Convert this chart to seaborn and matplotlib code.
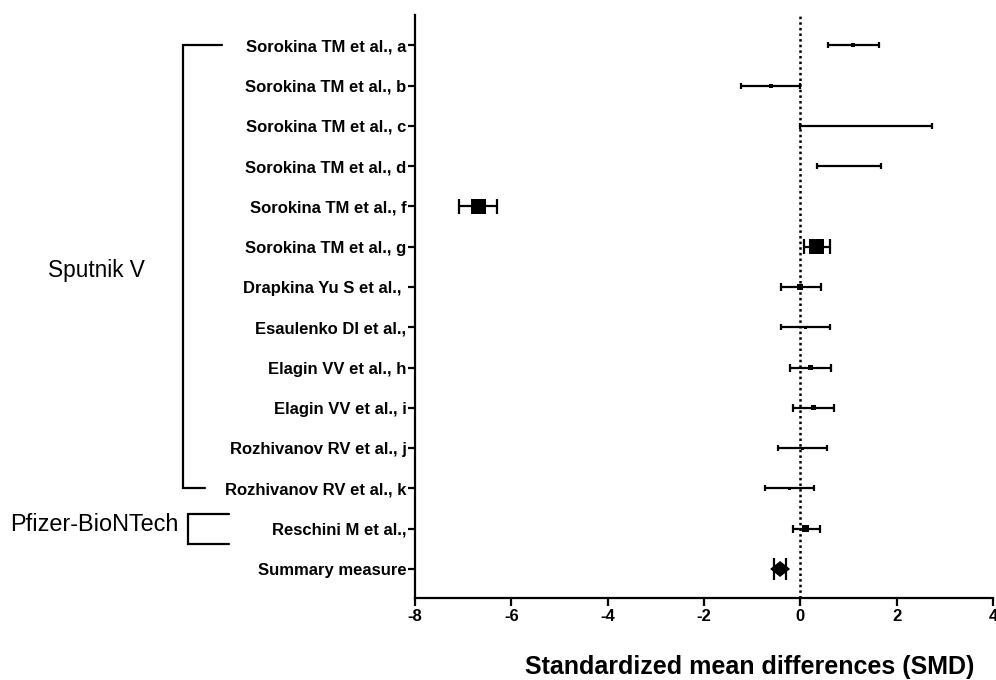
import numpy as np
import pandas as pd
import matplotlib
matplotlib.use("Agg")
import matplotlib.pyplot as plt
import seaborn as sns

# Study-level standardized mean differences with 95% confidence limits
studies = [
    "Sorokina TM et al., a", "Sorokina TM et al., b", "Sorokina TM et al., c",
    "Sorokina TM et al., d", "Sorokina TM et al., f", "Sorokina TM et al., g",
    "Drapkina Yu S et al., ", "Esaulenko DI et al.,", "Elagin VV et al., h",
    "Elagin VV et al., i", "Rozhivanov RV et al., j", "Rozhivanov RV et al., k",
    "Reschini M et al.,", "Summary measure",
]
smd = [1.10, -0.61, np.nan, np.nan, -6.68, 0.34, 0.00, 0.11, 0.215, 0.27, 0.05, -0.23, 0.11, -0.42]
ci_low = [0.58, -1.24, -0.01, 0.35, -7.08, 0.08, -0.40, -0.40, -0.21, -0.16, -0.46, -0.73, -0.16, -0.54]
ci_high = [1.63, 0.00, 2.74, 1.67, -6.29, 0.61, 0.42, 0.625, 0.645, 0.69, 0.56, 0.29, 0.40, -0.29]
x_ticks = [-8, -6, -4, -2, 0, 2, 4]

# Marker side length in pixels (study weight) and cap height in pixels
marker_px = [4, 4, 0, 0, 15, 15, 6, 3, 5, 5, 3, 3, 7, 20]
cap_px = [6, 6, 6, 6, 15, 15, 8, 6, 8, 8, 6, 6, 8, 22]

df = pd.DataFrame({"study": studies, "smd": smd, "lo": ci_low, "hi": ci_high,
                   "row": np.arange(len(studies))})

sns.set_theme(style="ticks")
plt.rcParams["font.family"] = ["Liberation Sans", "DejaVu Sans"]

DPI = 100
fig = plt.figure(figsize=(9.96, 6.8), dpi=DPI)
ax = fig.add_axes([415 / 996, 1 - 598 / 680, 578 / 996, 583 / 680])

px2pt = 72 / DPI

# Reference line at zero
ax.axvline(0, color="black", linestyle=(0, (1, 1.25)), linewidth=1.8, zorder=1)

# Confidence intervals with caps
ax.hlines(df["row"], df["lo"], df["hi"], color="black", linewidth=1.6, zorder=2)
for r, lo, hi, c in zip(df["row"], df["lo"], df["hi"], cap_px):
    h = c / 2 / 40.3
    ax.vlines([lo, hi], r - h, r + h, color="black", linewidth=1.6, zorder=2)

# Study point estimates as squares sized by weight
study_df = df.iloc[:-1].copy()
study_df["mpx"] = marker_px[:-1]
study_df = study_df.dropna(subset=["smd"])
study_df = study_df[study_df["mpx"] > 0]
size_map = {m: (m * px2pt) ** 2 for m in study_df["mpx"].unique()}
sns.scatterplot(data=study_df, x="smd", y="row", size="mpx", sizes=size_map,
                marker="s", color="black", edgecolor="none", legend=False,
                ax=ax, zorder=3)

# Pooled estimate as a flattened diamond
diamond = [(-1, 0), (0, 0.8), (1, 0), (0, -0.8), (-1, 0)]
summ = df.iloc[[-1]]
sns.scatterplot(data=summ, x="smd", y="row", marker=diamond, s=(marker_px[-1] * px2pt) ** 2,
                color="black", edgecolor="none", legend=False, ax=ax, zorder=3)

ax.set_xlim(-8, 4)
ax.set_ylim(13.72, -0.75)
ax.set_xticks(x_ticks)
ax.set_xticklabels([str(t) for t in x_ticks], fontweight="bold", fontsize=12)
ax.set_yticks(df["row"])
ax.set_yticklabels(studies, fontweight="bold", fontsize=12)
ax.set_xlabel("")
ax.set_ylabel("")

for side in ["top", "right"]:
    ax.spines[side].set_visible(False)
for side in ["left", "bottom"]:
    ax.spines[side].set_linewidth(1.6)
    ax.spines[side].set_color("black")
ax.tick_params(axis="x", length=6, width=1.6, color="black", pad=2, labelcolor="black")
ax.tick_params(axis="y", length=5, width=1.6, color="black", pad=1.2, labelcolor="black")

fig.text(750 / 996, 1 - 667 / 680, "Standardized mean differences (SMD)",
         ha="center", va="center", fontsize=18, fontweight="bold", color="black")

# Vaccine group brackets
yt = ax.get_yaxis_transform()
def fx(px):
    return (px - 415) / 578

ax.plot([fx(222), fx(183), fx(183), fx(205)], [0, 0, 11, 11], color="black",
        linewidth=1.6, transform=yt, clip_on=False, solid_joinstyle="miter")
ax.plot([fx(229), fx(188), fx(188), fx(229)], [12 - 0.37, 12 - 0.37, 12 + 0.37, 12 + 0.37],
        color="black", linewidth=1.6, transform=yt, clip_on=False, solid_joinstyle="miter")
ax.text(fx(48), 5.58, "Sputnik V", transform=yt, ha="left", va="center", fontsize=16.3,
        color="black")
ax.text(fx(10), 11.9, "Pfizer-BioNTech", transform=yt, ha="left", va="center", fontsize=16.9,
        color="black")

fig.savefig("out.png", dpi=DPI, facecolor="white")
